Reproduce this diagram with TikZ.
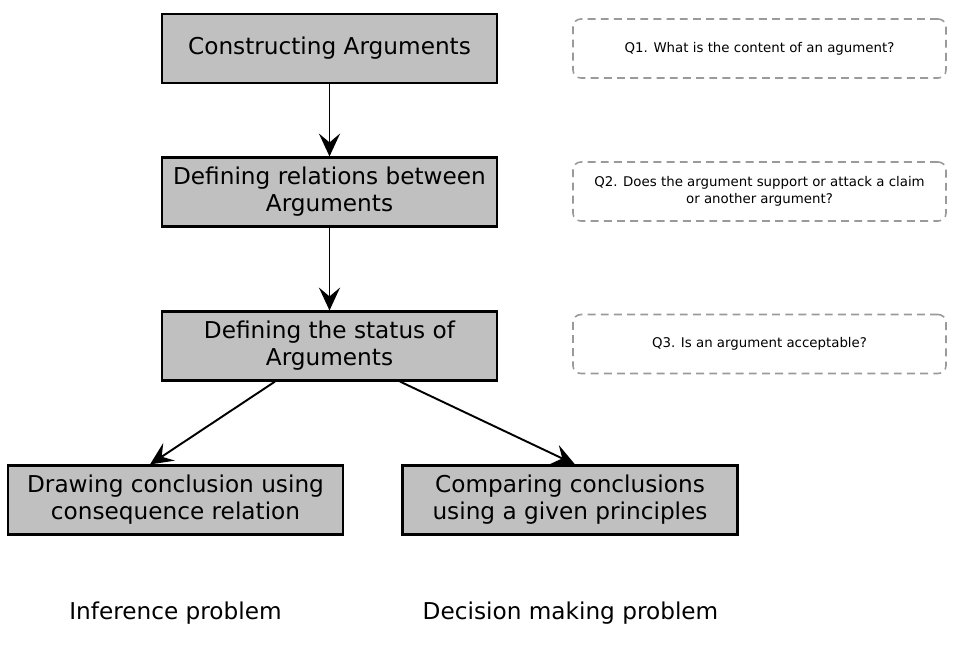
\documentclass[tikz,border=0pt]{standalone}
\usepackage{fontspec}
\setmainfont{DejaVu Sans}
\usetikzlibrary{arrows.meta}
\definecolor{boxgray}{HTML}{C0C0C0}
\definecolor{dashgray}{HTML}{9A9A9A}

\begin{document}
\begin{tikzpicture}[x=0.02cm,y=-0.02cm,
	stepbox/.style={draw,line width=1.2pt,fill=boxgray,minimum width=335*0.02cm,minimum height=69*0.02cm,align=center,font=\fontsize{13.2}{15.4}\selectfont,inner sep=0pt},
	qbox/.style={draw=dashgray,line width=0.9pt,dash pattern=on 4.5pt off 3pt,rounded corners=4.5pt,minimum width=373*0.02cm,minimum height=59*0.02cm,align=center,font=\fontsize{7.6}{9.8}\selectfont,inner sep=0pt},
	flow/.style={line width=1.1pt,-{Stealth[length=13pt,width=12pt,inset=5pt]}}]
		\useasboundingbox (0,0) rectangle (962,646);
		\node[stepbox] (cons) at (329.5,48.5) {Constructing Arguments};
		\node[stepbox] (rel) at (329.5,192) {Defining relations between\\Arguments};
		\node[stepbox] (stat) at (329.5,346) {Defining the status of\\Arguments};
		\node[stepbox] (infer) at (175.5,500) {Drawing conclusion using\\consequence relation};
		\node[stepbox] (decide) at (570,500) {Comparing conclusions\\using a given principles};
		\node[qbox] (q1) at (759.5,48.5) {Q1. What is the content of an agument?};
		\node[qbox] (q2) at (759.5,191.5) {Q2. Does the argument support or attack a claim\\or another argument?};
		\node[qbox] (q3) at (759.5,344) {Q3. Is an argument acceptable?};
		\node[font=\fontsize{13.2}{15.4}\selectfont] (inflab) at (175.5,613) {Inference problem};
		\node[font=\fontsize{13.2}{15.4}\selectfont] (declab) at (570.5,613) {Decision making problem};
		\draw[flow] (cons) -- (rel);
		\draw[flow] (rel) -- (stat);
		\draw[flow] ([xshift=-54.5*0.02cm]stat.south) -- ([xshift=-25.5*0.02cm]infer.north);
		\draw[flow] ([xshift=70.5*0.02cm]stat.south) -- ([xshift=5*0.02cm]decide.north);
	\end{tikzpicture}
\end{document}
